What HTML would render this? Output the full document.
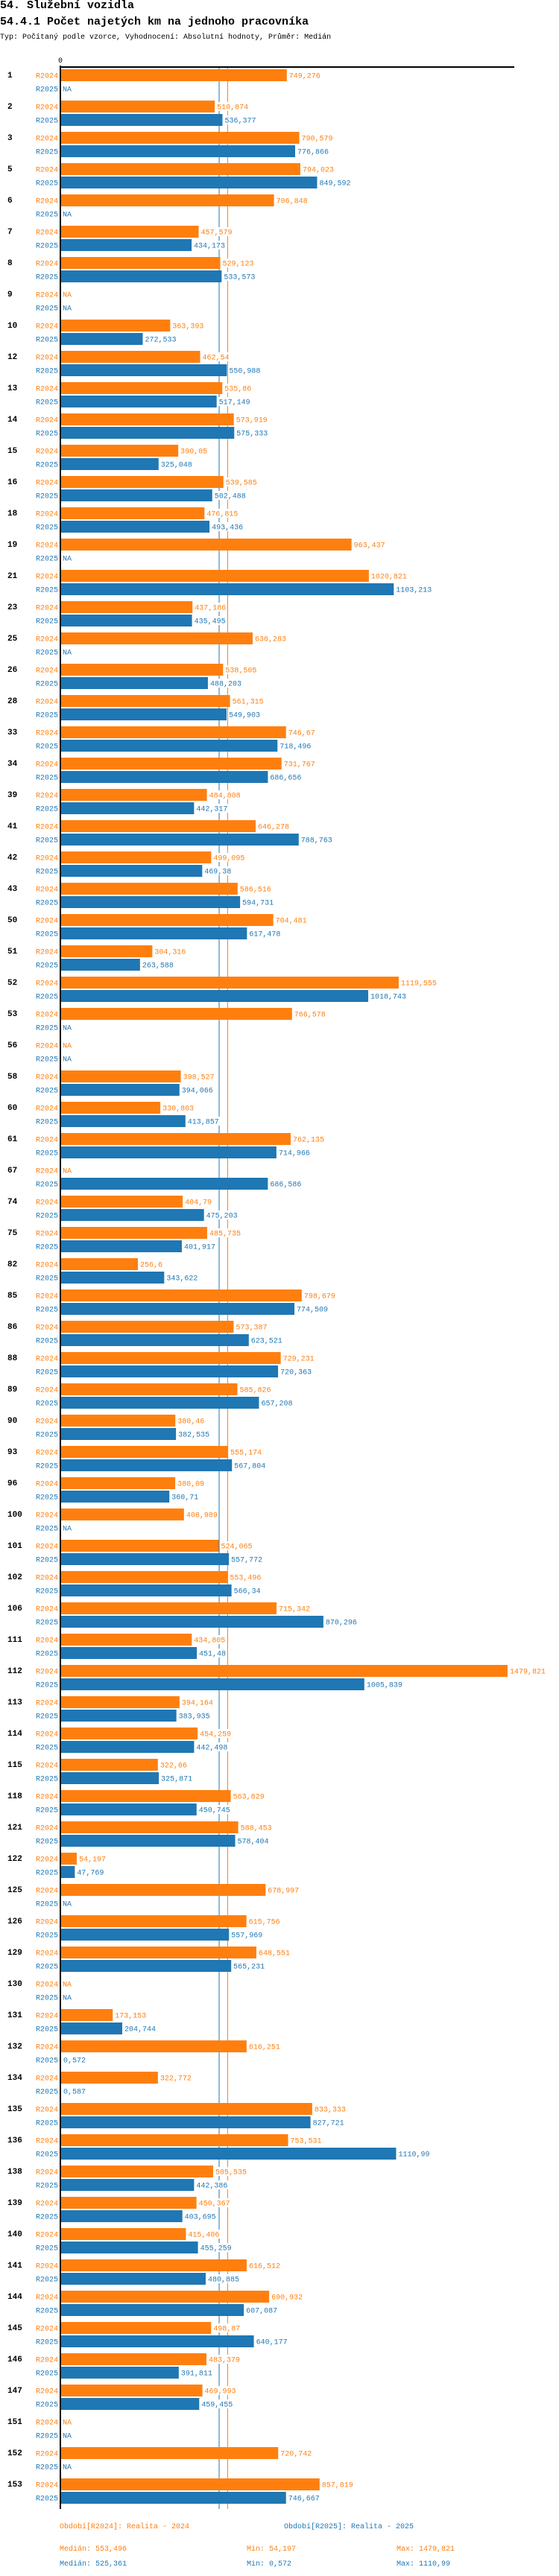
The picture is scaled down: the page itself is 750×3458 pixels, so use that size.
<!DOCTYPE html>
<html><head><meta charset="utf-8">
<style>
body{margin:0;background:#fff;width:750px;height:3458px;overflow:hidden;font-family:"Liberation Mono",monospace;}
.t1{position:absolute;left:0;top:0;font-size:15px;font-weight:bold;line-height:15px;}
.t2{position:absolute;left:0;top:22px;font-size:15px;font-weight:bold;line-height:15px;}
.t3{position:absolute;left:0;top:45px;font-size:10px;line-height:12px;}
svg{position:absolute;left:0;top:0;}
</style></head><body>
<div class="t1">54. Služební vozidla</div>
<div class="t2">54.4.1 Počet najetých km na jednoho pracovníka</div>
<div class="t3">Typ: Počítaný podle vzorce, Vyhodnocení: Absolutní hodnoty, Průměr: Medián</div>
<svg id="chart" width="750" height="3458"></svg>
<script>
const categories=["1","2","3","5","6","7","8","9","10","12","13","14","15","16","18","19","21","23","25","26","28","33","34","39","41","42","43","50","51","52","53","56","58","60","61","67","74","75","82","85","86","88","89","90","93","96","100","101","102","106","111","112","113","114","115","118","121","122","125","126","129","130","131","132","134","135","136","138","139","140","141","144","145","146","147","151","152","153"];
const values2024=[749.276,510.874,790.579,794.023,706.848,457.579,529.123,null,363.393,462.54,535.86,573.919,390.05,539.585,476.815,963.437,1020.821,437.186,636.283,538.505,561.315,746.67,731.767,484.808,646.278,499.095,586.516,704.481,304.316,1119.555,766.578,null,398.527,330.803,762.135,null,404.79,485.735,256.6,798.679,573.387,729.231,585.826,380.46,555.174,380.09,408.989,524.065,553.496,715.342,434.805,1479.821,394.164,454.259,322.66,563.829,588.453,54.197,678.997,615.756,648.551,null,173.153,616.251,322.772,833.333,753.531,505.535,450.367,415.406,616.512,690.932,498.87,483.379,469.993,null,720.742,857.819];
const values2025=[null,536.377,776.866,849.592,null,434.173,533.573,null,272.533,550.988,517.149,575.333,325.048,502.488,493.436,null,1103.213,435.495,null,488.203,549.903,718.496,686.656,442.317,788.763,469.38,594.731,617.478,263.588,1018.743,null,null,394.066,413.857,714.966,686.586,475.203,401.917,343.622,774.509,623.521,720.363,657.208,382.535,567.804,360.71,null,557.772,566.34,870.296,451.48,1005.839,383.935,442.498,325.871,450.745,578.404,47.769,null,557.969,565.231,null,204.744,0.572,0.587,827.721,1110.99,442.386,403.695,455.259,480.885,607.087,640.177,391.811,459.455,null,null,746.667];
const medians=[553.496,525.361];
const mins=[54.197,0.572];
const maxs=[1479.821,1110.99];
const seriesNames=["R2024","R2025"];
const periodLabels=["Období[R2024]: Realita - 2024","Období[R2025]: Realita - 2025"];

const X0=81, SCALE=600/1479.821, Y0=93, PITCH=42, BARH=16, GAP=18;
const colors=["#ff7f0e","#1f77b4"];
const x=v=>X0+v*SCALE;
const yg=(i,s)=>Y0+i*PITCH+s*GAP;
const fmt=v=>String(v).replace('.',',');
const svg=document.getElementById('chart');
const NS='http://www.w3.org/2000/svg';
function mk(tag,attrs,txt){const e=document.createElementNS(NS,tag);for(const k in attrs)e.setAttribute(k,attrs[k]);if(txt!==undefined)e.textContent=txt;svg.appendChild(e);return e;}
const bottom=3368;
// axis
let ax=mk('line',{x1:X0,y1:88,x2:X0,y2:bottom,stroke:'#000','stroke-width':2});


let hx=mk('line',{x1:X0,y1:90,x2:690,y2:90,stroke:'#000','stroke-width':2});


let zl=mk('text',{x:X0,y:84,'font-size':10,'text-anchor':'middle',fill:'#000'},'0');


const series=[values2024,values2025];
categories.forEach((c,i)=>{
  let cl=mk('text',{x:10,y:yg(i,0)+11,'font-size':11,'font-weight':'bold',fill:'#000'},c);
  
  
  series.forEach((vals,s)=>{
    const y=yg(i,s);
    let sl=mk('text',{x:78,y:y+11.5,'font-size':10,'text-anchor':'end',fill:colors[s]},seriesNames[s]);
    
    
    const v=vals[i];
    if(v===null){
      let na=mk('text',{x:X0+3,y:y+11.5,'font-size':10,fill:colors[s]},'NA');
      
      
      return;
    }
    let b=mk('rect',{x:X0+1,y:y,width:Math.max(0,x(v)-X0-1),height:BARH,fill:colors[s]});
    
    
    const t=fmt(v);
    const tx=Math.max(x(v),X0+1)+3;
    let bg=mk('rect',{x:tx-1,y:y+2,width:t.length*6+2,height:12,fill:'#fff'});
    
    
    let vl=mk('text',{x:tx,y:y+11.5,'font-size':10,fill:colors[s]},t);
    
    
  });
});
// median lines (drawn beneath labels via insertion)
medians.forEach((m,s)=>{
  const l=document.createElementNS(NS,'line');
  l.setAttribute('x1',x(m));l.setAttribute('x2',x(m));l.setAttribute('y1',91);l.setAttribute('y2',bottom);
  l.setAttribute('stroke',colors[s]);l.setAttribute('stroke-width',1);
  
  
  svg.insertBefore(l,svg.firstChild);
});
// legend
periodLabels.forEach((p,s)=>{
  let t=mk('text',{x:s?381:80,y:3394,'font-size':10,fill:colors[s]},p);
  
  
  const yy=3424+s*20;
  let a=mk('text',{x:80,y:yy,'font-size':10,fill:colors[s]},'Medián: '+fmt(medians[s]));
  
  
  let b=mk('text',{x:331,y:yy,'font-size':10,fill:colors[s]},'Min: '+fmt(mins[s]));
  
  
  let d=mk('text',{x:532,y:yy,'font-size':10,fill:colors[s]},'Max: '+fmt(maxs[s]));
  
  
});
</script>
</body></html>
